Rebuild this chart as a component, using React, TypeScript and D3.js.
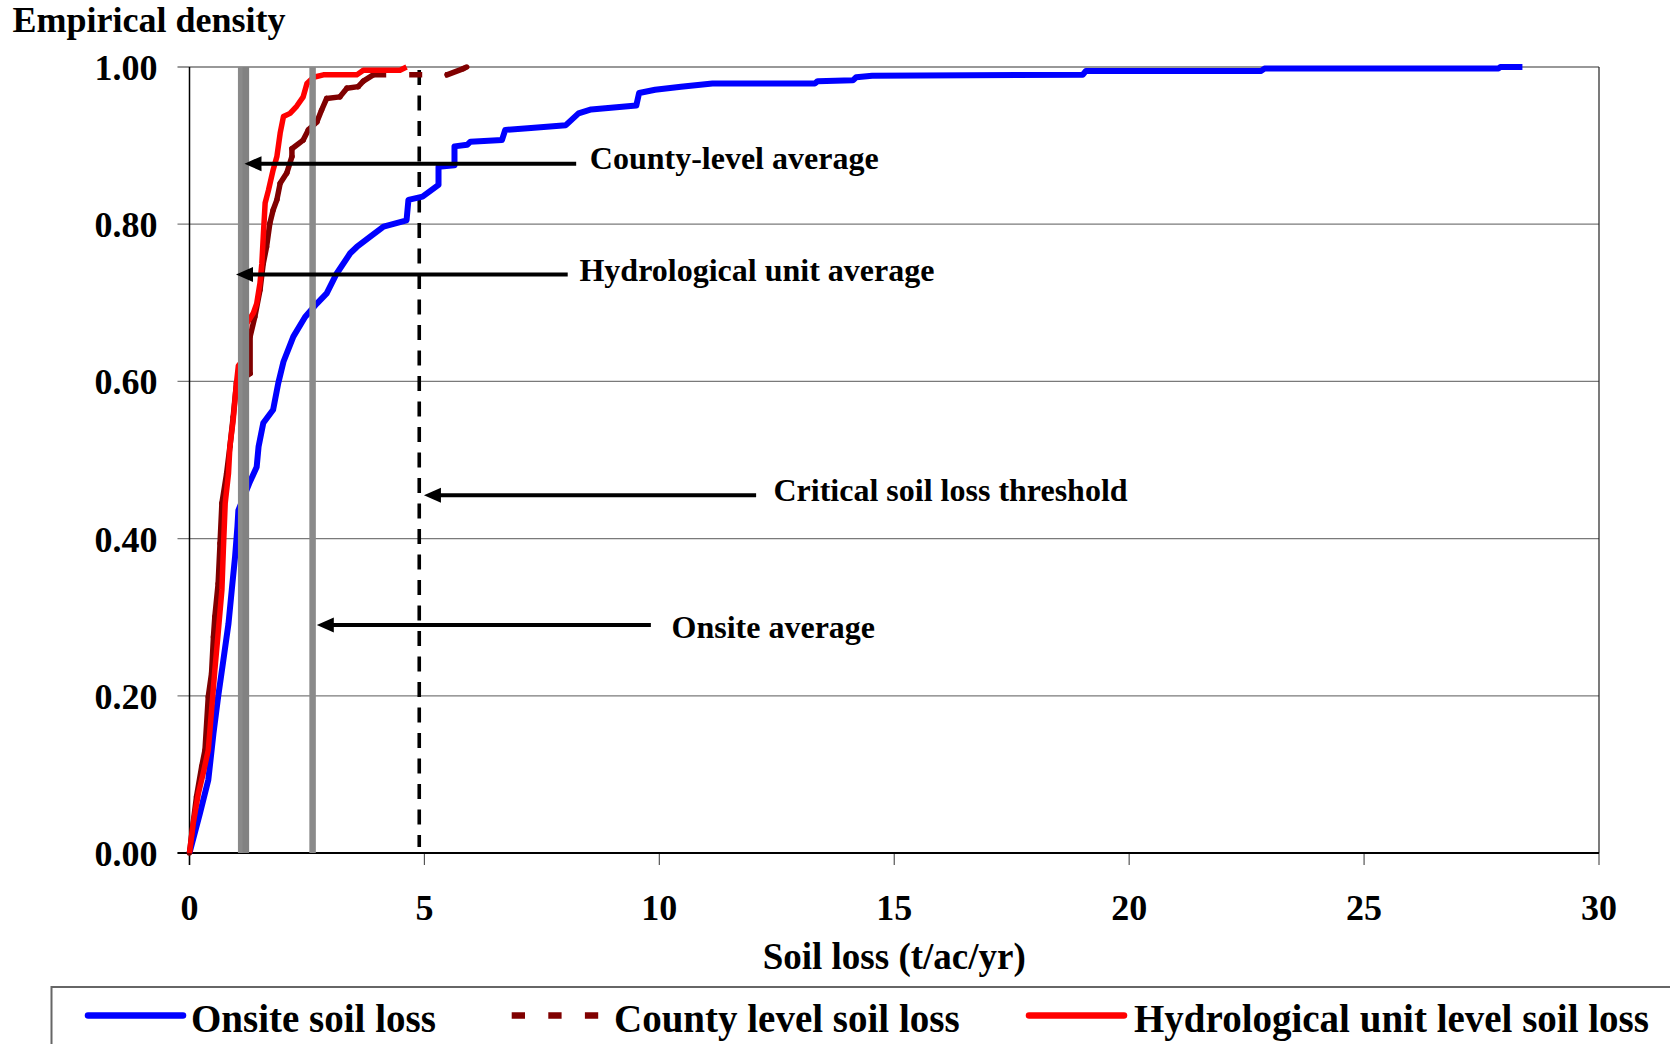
import React from "react";
import * as d3 from "d3";

// ---------- data ----------
const xTicks = [0, 5, 10, 15, 20, 25, 30];
const yTicks = [0, 0.2, 0.4, 0.6, 0.8, 1.0];

// Onsite soil loss empirical CDF
const onsiteX = [0, 0.22, 0.4, 0.51, 0.61, 0.72, 0.83, 0.9, 0.97, 1.02, 1.04, 1.27, 1.43, 1.47, 1.57, 1.78, 1.89, 2.0, 2.21, 2.46, 2.71, 2.92, 3.13, 3.42, 3.56, 3.84, 4.13, 4.62, 4.66, 4.96, 5.3, 5.3, 5.64, 5.64, 5.91, 5.98, 6.65, 6.72, 7.2, 8.01, 8.28, 8.55, 9.51, 9.57, 9.91, 10.46, 11.13, 13.31, 13.37, 14.12, 14.19, 14.53, 19.01, 19.08, 22.81, 22.88, 27.86, 27.9, 28.37];
const onsiteY = [0, 0.05, 0.093, 0.152, 0.199, 0.245, 0.292, 0.335, 0.377, 0.415, 0.436, 0.47, 0.491, 0.517, 0.547, 0.564, 0.598, 0.625, 0.657, 0.682, 0.699, 0.712, 0.737, 0.763, 0.771, 0.784, 0.797, 0.805, 0.831, 0.835, 0.85, 0.873, 0.875, 0.899, 0.901, 0.905, 0.907, 0.92, 0.922, 0.926, 0.941, 0.946, 0.951, 0.967, 0.971, 0.975, 0.979, 0.979, 0.982, 0.983, 0.987, 0.989, 0.99, 0.995, 0.995, 0.998, 0.998, 1.0, 1.0];

// County level soil loss
const countyX = [0, 0.05, 0.15, 0.26, 0.33, 0.4, 0.47, 0.51, 0.54, 0.61, 0.65, 0.69, 0.79, 0.86, 0.93, 1.0, 1.29, 1.29, 1.39, 1.5, 1.57, 1.64, 1.71, 1.78, 1.86, 1.93, 2.07, 2.18, 2.18, 2.42, 2.53, 2.71, 2.81, 2.92, 3.2, 3.35, 3.59, 3.7, 3.91, 5.48, 5.83, 5.9];
const countyY = [0, 0.025, 0.072, 0.11, 0.131, 0.199, 0.229, 0.275, 0.301, 0.343, 0.394, 0.445, 0.483, 0.517, 0.555, 0.598, 0.61, 0.657, 0.682, 0.716, 0.75, 0.771, 0.801, 0.818, 0.831, 0.852, 0.865, 0.886, 0.896, 0.907, 0.92, 0.93, 0.945, 0.96, 0.962, 0.973, 0.975, 0.982, 0.99, 0.99, 0.998, 1.0];

// Hydrological unit level soil loss
const hydroX = [0, 0.08, 0.19, 0.29, 0.4, 0.47, 0.54, 0.61, 0.69, 0.72, 0.76, 0.83, 0.86, 0.93, 1.0, 1.04, 1.18, 1.22, 1.36, 1.43, 1.5, 1.54, 1.57, 1.61, 1.68, 1.78, 1.86, 1.93, 2.0, 2.14, 2.28, 2.42, 2.5, 2.64, 2.85, 3.56, 3.7, 4.48, 4.62];
const hydroY = [0, 0.038, 0.076, 0.101, 0.131, 0.182, 0.233, 0.28, 0.335, 0.385, 0.445, 0.483, 0.517, 0.551, 0.598, 0.62, 0.63, 0.674, 0.687, 0.699, 0.725, 0.75, 0.784, 0.827, 0.843, 0.869, 0.886, 0.916, 0.937, 0.941, 0.95, 0.962, 0.979, 0.987, 0.99, 0.99, 0.996, 0.996, 1.0];

// vertical reference lines
const averageLabels = ["Hydrological unit average", "County-level average", "Onsite average"];
const averageValues = [1.1, 1.2, 2.62];
const thresholdValue = 4.89;

// annotations: label, arrow level (y), arrow tip (x), arrow tail (x), text start (x), text level (y)
const annLabels = ["County-level average", "Hydrological unit average", "Critical soil loss threshold", "Onsite average"];
const annArrowY = [0.877, 0.736, 0.455, 0.29];
const annTipX = [1.17, 0.99, 4.99, 2.71];
const annTailX = [8.23, 8.05, 12.06, 9.82];
const annTextX = [8.52, 8.3, 12.43, 10.26];
const annTextY = [0.884, 0.742, 0.462, 0.288];

const legendLabels = ["Onsite soil loss", "County level soil loss", "Hydrological unit level soil loss"];

// ---------- layout & style ----------
const W = 1670;
const H = 1044;
const PLOT = { left: 189.5, right: 1599, top: 67, bottom: 853 };
const FONT = "'Liberation Serif', 'Times New Roman', serif";
const BLUE = "#0000ff";
const RED = "#ff0000";
const DARKRED = "#800000";
const GREY = "#8a8a8a";

export default function App() {
  const x = d3.scaleLinear().domain([0, 30]).range([PLOT.left, PLOT.right]);
  const y = d3.scaleLinear().domain([0, 1]).range([PLOT.bottom, PLOT.top]);
  const line = d3
    .line<[number, number]>()
    .x((d) => x(d[0]))
    .y((d) => y(d[1]));

  const onsite = onsiteX.map((v, i) => [v, onsiteY[i]] as [number, number]);
  const county = countyX.map((v, i) => [v, countyY[i]] as [number, number]);
  const hydro = hydroX.map((v, i) => [v, hydroY[i]] as [number, number]);

  const countySegs = county.slice(1).map((p, i) => {
    const a = county[i];
    const dx = x(p[0]) - x(a[0]);
    const dy = y(p[1]) - y(a[1]);
    const len = Math.hypot(dx, dy);
    const dashed = len > 30 && Math.abs(dy) < 3;
    return { a, b: p, dashed };
  });

  const legendLineX = [[88, 183], [511.7, 598.3], [1029, 1124]];
  const legendTextX = [191, 614, 1134];
  const legendColors = [BLUE, DARKRED, RED];

  return (
    <svg
      width={W}
      height={H}
      viewBox={`0 0 ${W} ${H}`}
      style={{ position: "absolute", left: 0, top: 0, background: "#fff" }}
      fontFamily={FONT}
      fontWeight="bold"
    >
      <rect x={0} y={0} width={W} height={H} fill="#fff" />

      {/* gridlines */}
      {yTicks.map((t) => (
        <line key={"g" + t} x1={PLOT.left - 12} x2={PLOT.right} y1={y(t)} y2={y(t)} stroke={t === 1 ? "#333" : "#7a7a7a"} strokeWidth={1.2} />
      ))}
      {/* right border */}
      <line x1={PLOT.right} x2={PLOT.right} y1={PLOT.top} y2={PLOT.bottom} stroke="#222" strokeWidth={1.2} />
      {/* x ticks */}
      {xTicks.map((t) => (
        <line key={"xt" + t} x1={x(t)} x2={x(t)} y1={PLOT.bottom} y2={PLOT.bottom + 12} stroke="#555" strokeWidth={1.2} />
      ))}
      {/* axes */}
      <line x1={PLOT.left} x2={PLOT.left} y1={PLOT.top} y2={PLOT.bottom + 12} stroke="#000" strokeWidth={1.5} />
      <line x1={PLOT.left - 12} x2={PLOT.right} y1={PLOT.bottom} y2={PLOT.bottom} stroke="#000" strokeWidth={2} />

      {/* tick labels */}
      {yTicks.map((t) => (
        <text key={"yl" + t} x={PLOT.left - 32} y={y(t) + 13} textAnchor="end" fontSize={36}>
          {d3.format(".2f")(t)}
        </text>
      ))}
      {xTicks.map((t) => (
        <text key={"xl" + t} x={x(t)} y={920} textAnchor="middle" fontSize={36}>
          {t}
        </text>
      ))}

      {/* titles */}
      <text x={12.5} y={32} fontSize={36}>Empirical density</text>
      <text x={(PLOT.left + PLOT.right) / 2} y={969} textAnchor="middle" fontSize={37}>Soil loss (t/ac/yr)</text>

      {/* critical threshold */}
      <line x1={x(thresholdValue)} x2={x(thresholdValue)} y1={PLOT.top + 3} y2={PLOT.bottom - 6} stroke="#000" strokeWidth={3.6} strokeDasharray="15,10.5" />

      {/* onsite curve */}
      <path d={line(onsite) || ""} fill="none" stroke={BLUE} strokeWidth={6} strokeLinejoin="round" />

      {/* county curve (dash pattern restarts per segment) */}
      {countySegs.map((s, i) => (
        <line
          key={"c" + i}
          x1={x(s.a[0])}
          y1={y(s.a[1])}
          x2={x(s.b[0])}
          y2={y(s.b[1])}
          stroke={DARKRED}
          strokeWidth={5.5}
          strokeLinecap={s.dashed ? "butt" : "round"}
          strokeDasharray={s.dashed ? "13,23" : undefined}
        />
      ))}

      {/* hydro curve */}
      <path d={line(hydro) || ""} fill="none" stroke={RED} strokeWidth={5.5} strokeLinejoin="round" />

      {/* average lines */}
      {averageValues.map((v, i) => (
        <line key={averageLabels[i]} x1={x(v)} x2={x(v)} y1={PLOT.top} y2={PLOT.bottom} stroke={i === 1 ? "#828282" : GREY} strokeWidth={6.5} />
      ))}

      {/* annotations */}
      {annLabels.map((lab, i) => {
        const yy = y(annArrowY[i]);
        const tip = x(annTipX[i]);
        const tail = x(annTailX[i]);
        return (
          <g key={lab}>
            <line x1={tip + 12} x2={tail} y1={yy} y2={yy} stroke="#000" strokeWidth={4} />
            <path d={`M${tip},${yy} L${tip + 17},${yy - 7.5} L${tip + 17},${yy + 7.5} Z`} fill="#000" />
            <text x={x(annTextX[i])} y={y(annTextY[i]) + 11} fontSize={32}>
              {lab}
            </text>
          </g>
        );
      })}

      {/* legend */}
      <rect x={51.5} y={987} width={1700} height={120} fill="none" stroke="#666" strokeWidth={2} />
      {legendLabels.map((lab, i) => (
        <g key={lab}>
          <line
            x1={legendLineX[i][0]}
            x2={legendLineX[i][1]}
            y1={1015.5}
            y2={1015.5}
            stroke={legendColors[i]}
            strokeWidth={6.5}
            strokeLinecap={i === 1 ? "butt" : "round"}
            strokeDasharray={i === 1 ? "13.3,23.3" : undefined}
          />
          <text x={legendTextX[i]} y={1031.5} fontSize={39}>
            {lab}
          </text>
        </g>
      ))}
    </svg>
  );
}
